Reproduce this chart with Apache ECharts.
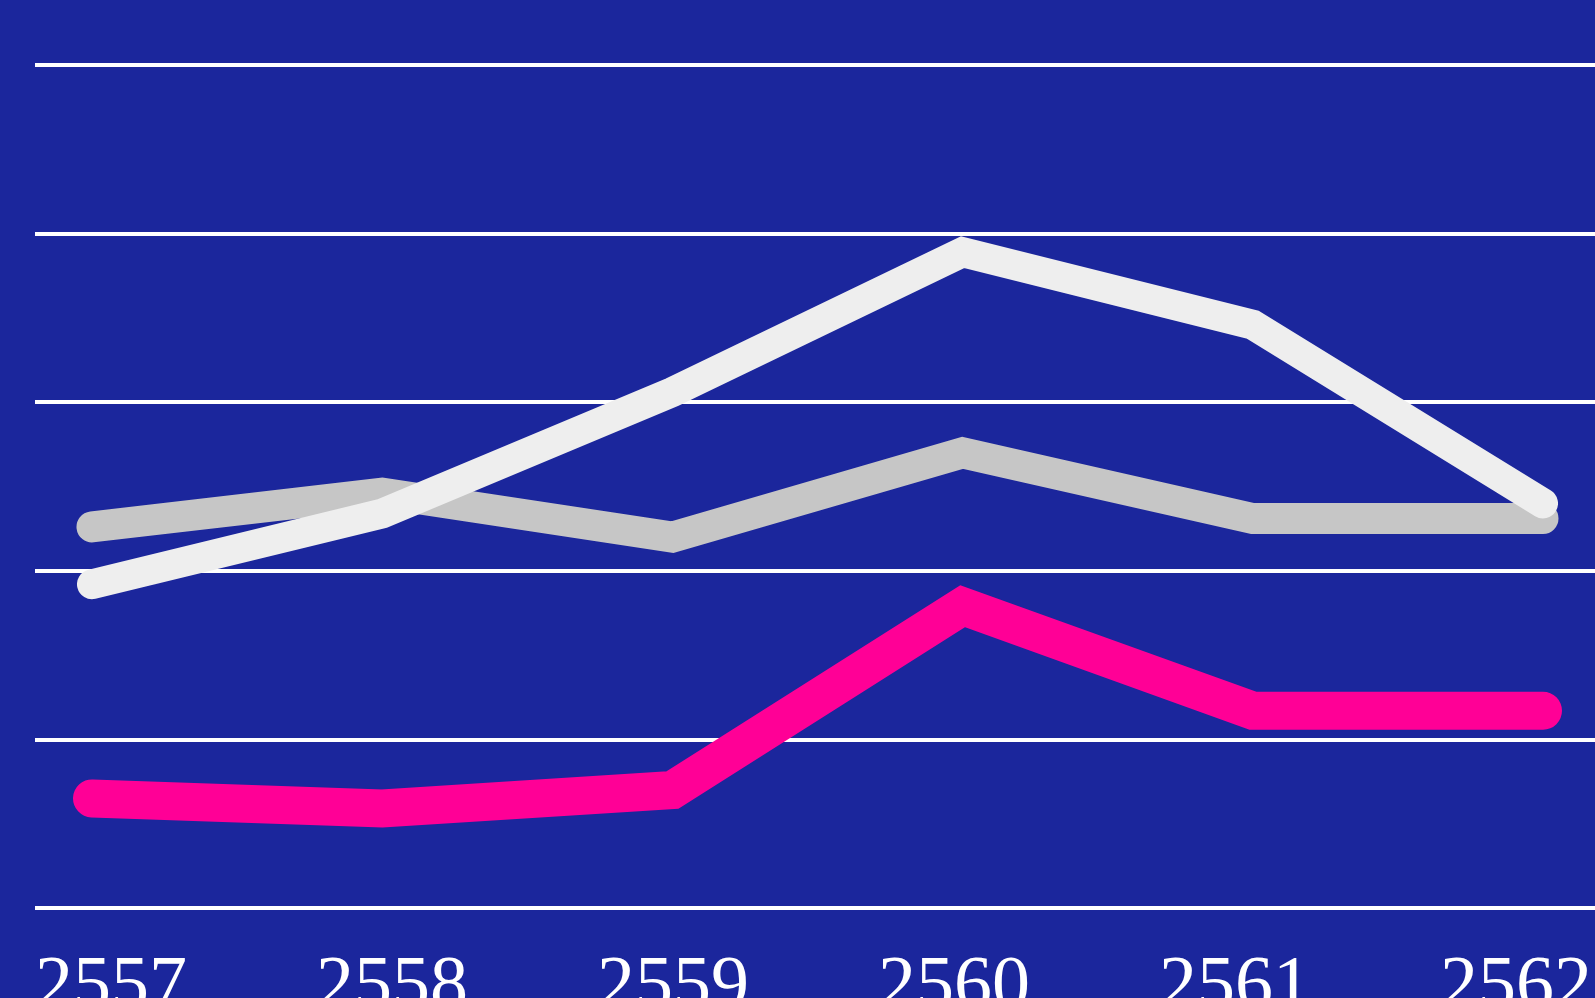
<!DOCTYPE html>
<html><head><meta charset="utf-8">
<script src="https://cdn.jsdelivr.net/npm/echarts@6/dist/echarts.min.js"></script>
<style>html,body{margin:0;padding:0;background:#1b269c;}#c{width:1595px;height:998px;}</style>
</head><body><div id="c"></div>
<script>
const years = ['2557','2558','2559','2560','2561','2562'];
const pinkSeries = [6.5, 5.9, 7.0, 17.9, 11.7, 11.7];
const graySeries = [22.6, 24.6, 22.0, 27.0, 23.1, 23.1];
const whiteSeries = [19.2, 23.4, 30.6, 38.9, 34.6, 24.0];
const yMin = 0, yMax = 50, yStep = 10;

const chart = echarts.init(document.getElementById('c'), null, {renderer:'canvas'});
const lineStyle = (color, w) => ({color, width: w, cap: 'round', join: 'miter'});
const gridTop = 65, gridBottom = 90;
chart.setOption({
  backgroundColor: '#1b269c',
  animation: false,
  grid: [
    {left: 92, right: 52, top: gridTop, bottom: gridBottom, outerBoundsMode: 'none', containLabel: false},
    {left: 35, right: 0, top: gridTop, bottom: gridBottom, outerBoundsMode: 'none', containLabel: false},
    {left: 111, right: 79, top: gridTop, bottom: gridBottom, outerBoundsMode: 'none', containLabel: false}
  ],
  xAxis: [
    {type: 'category', gridIndex: 0, data: years, boundaryGap: false, show: false},
    {type: 'category', gridIndex: 1, data: years, show: false},
    {type: 'category', gridIndex: 2, data: years, boundaryGap: false,
     axisLine: {show: false}, axisTick: {show: false}, splitLine: {show: false},
     axisLabel: {color: '#ffffff', fontFamily: 'Liberation Serif', fontSize: 76, margin: 42, interval: 0}}
  ],
  yAxis: [
    {type: 'value', gridIndex: 0, min: yMin, max: yMax, interval: yStep, show: false, splitLine: {show: false}},
    {type: 'value', gridIndex: 1, min: yMin, max: yMax, interval: yStep,
     axisLine: {show: false}, axisTick: {show: false}, axisLabel: {show: false},
     splitLine: {show: true, lineStyle: {color: '#ffffff', width: 4}}},
    {type: 'value', gridIndex: 2, min: yMin, max: yMax, interval: yStep, show: false, splitLine: {show: false}}
  ],
  series: [
    {type: 'line', name: 'gray', data: graySeries, xAxisIndex: 0, yAxisIndex: 0, showSymbol: false, symbol: 'none', lineStyle: lineStyle('#c6c6c6', 31), z: 2},
    {type: 'line', name: 'white', data: whiteSeries, xAxisIndex: 0, yAxisIndex: 0, showSymbol: false, symbol: 'none', lineStyle: lineStyle('#eeeeee', 30), z: 3},
    {type: 'line', name: 'pink', data: pinkSeries, xAxisIndex: 0, yAxisIndex: 0, showSymbol: false, symbol: 'none', lineStyle: lineStyle('#ff0096', 38), z: 4}
  ]
});
</script></body></html>
